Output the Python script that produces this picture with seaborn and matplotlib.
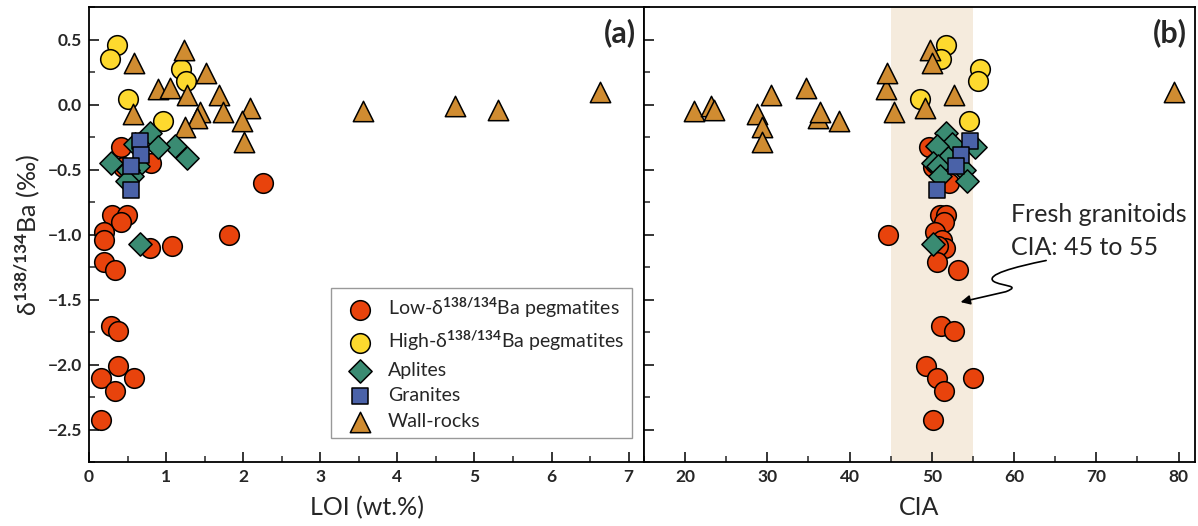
import numpy as np
import pandas as pd
import matplotlib
matplotlib.use("Agg")
import matplotlib.pyplot as plt
import seaborn as sns
from matplotlib.ticker import MultipleLocator
from matplotlib.path import Path
from matplotlib.patches import FancyArrowPatch

# ── Data ─────────────────────────────────────────────────────────────────────
# Low-δ pegmatites
low_d   = [-0.33, -0.48, -0.45, -0.60, -0.85, -0.85, -0.90, -0.98, -1.04, -1.00, -1.10,
           -1.09, -1.21, -1.27, -1.70, -1.74, -2.01, -2.10, -2.10, -2.20, -2.43]
low_loi = [0.42, 0.44, 0.81, 2.26, 0.30, 0.49, 0.41, 0.20, 0.20, 1.81, 0.79,
           1.08, 0.20, 0.34, 0.29, 0.37, 0.37, 0.16, 0.58, 0.34, 0.16]
low_cia = [49.6, 50.2, 50.4, 52.1, 51.0, 51.7, 51.5, 50.4, 51.2, 44.7, 51.6,
           50.8, 50.6, 53.2, 51.1, 52.7, 49.3, 50.6, 55.0, 51.5, 50.2]

# High-δ pegmatites
high_d   = [0.46, 0.35, 0.04, -0.13, 0.27, 0.18]
high_loi = [0.36, 0.27, 0.51, 0.96, 1.19, 1.26]
high_cia = [51.7, 51.1, 48.6, 54.5, 55.9, 55.6]

# Aplites
apl_d   = [-0.22, -0.30, -0.32, -0.33, -0.41, -0.45, -0.47, -0.50, -0.55, -0.59, -1.07]
apl_loi = [0.79, 0.60, 1.12, 0.90, 1.27, 0.29, 0.64, 0.50, 0.56, 0.49, 0.66]
apl_cia = [51.7, 52.5, 50.6, 55.3, 52.0, 50.2, 50.8, 53.9, 51.0, 54.3, 50.2]

# Granites
gra_d   = [-0.28, -0.39, -0.47, -0.66]
gra_loi = [0.66, 0.67, 0.54, 0.55]
gra_cia = [54.7, 53.5, 52.9, 50.6]

# Wall-rocks
wall_d   = [0.42, 0.32, 0.12, 0.13, 0.24, 0.07, 0.07, -0.07, -0.06, -0.10,
            -0.06, -0.03, -0.13, -0.17, -0.29, -0.05, -0.01, -0.04, 0.10]
wall_loi = [1.23, 0.59, 0.89, 1.05, 1.52, 1.27, 1.68, 0.57, 1.44, 1.40,
            1.74, 2.09, 1.99, 1.24, 2.01, 3.56, 4.75, 5.31, 6.63]
wall_cia = [49.8, 50.0, 44.4, 34.7, 44.5, 30.4, 52.7, 28.7, 45.4, 36.2,
            36.4, 49.2, 38.75, 29.4, 29.4, 21.05, 23.1, 23.5, 79.4]

fresh_cia = (45, 55)

# ── Style ────────────────────────────────────────────────────────────────────
sns.set_theme(style="ticks")
plt.rcParams["font.family"] = ["Lato", "DejaVu Sans"]
plt.rcParams["font.weight"] = "bold"          # tick labels bold, other texts set back to normal
plt.rcParams["mathtext.fontset"] = "custom"
plt.rcParams["mathtext.rm"] = "Lato"
plt.rcParams["mathtext.it"] = "Lato:italic"
plt.rcParams["mathtext.bf"] = "Lato:bold"

groups = [
    # label, delta, loi, cia, marker, size, colour, zorder
    ("Low-δ$^{138/134}$Ba pegmatites",  low_d,  low_loi,  low_cia,  "o", 200, "#E8430C", 3),
    ("High-δ$^{138/134}$Ba pegmatites", high_d, high_loi, high_cia, "o", 200, "#FDD92E", 3),
    ("Wall-rocks",                      wall_d, wall_loi, wall_cia, "^", 215, "#D08C31", 4),
    ("Aplites",                         apl_d,  apl_loi,  apl_cia,  "D", 140, "#3A8B72", 5),
    ("Granites",                        gra_d,  gra_loi,  gra_cia,  "s", 140, "#4A62A8", 6),
]
legend_order = [0, 1, 3, 4, 2]

fig = plt.figure(figsize=(11.98, 5.26), dpi=100)
ax_a = fig.add_axes([89 / 1198, 64 / 526, 555 / 1198, 455 / 526])
ax_b = fig.add_axes([644 / 1198, 64 / 526, 551 / 1198, 455 / 526])

ax_b.axvspan(*fresh_cia, color="#F5EBDD", zorder=0, lw=0)

handles = []
for label, d, loi, cia, mk, s, col, z in groups:
    sns.scatterplot(x=loi, y=d, ax=ax_a, marker=mk, s=s, color=col,
                    edgecolor="black", linewidth=1.1, zorder=z, label=label, legend=False)
    handles.append(ax_a.collections[-1])
    sns.scatterplot(x=cia, y=d, ax=ax_b, marker=mk, s=s, color=col,
                    edgecolor="black", linewidth=1.1, zorder=z, legend=False)

# ── Axes ─────────────────────────────────────────────────────────────────────
for ax in (ax_a, ax_b):
    ax.set_ylim(-2.75, 0.75)
    ax.yaxis.set_major_locator(MultipleLocator(0.5))
    ax.yaxis.set_minor_locator(MultipleLocator(0.25))
    ax.tick_params(which="both", direction="in", top=False, right=False)
    ax.tick_params(which="major", length=7, width=1.3)
    ax.tick_params(which="minor", length=4, width=1.1)
    ax.tick_params(labelsize=12.5, pad=5)
    for sp in ax.spines.values():
        sp.set_color("black")
        sp.set_linewidth(1.3)

ax_a.set_xlim(0, 7.2)
ax_a.xaxis.set_major_locator(MultipleLocator(1))
ax_a.xaxis.set_minor_locator(MultipleLocator(0.5))
ax_a.set_xlabel("LOI (wt.%)", fontsize=18, fontweight="normal", labelpad=8)
ax_a.set_ylabel("δ$^{138/134}$Ba (‰)", fontsize=18, fontweight="normal", labelpad=4)

ax_b.set_xlim(15, 82)
ax_b.xaxis.set_major_locator(MultipleLocator(10))
ax_b.xaxis.set_minor_locator(MultipleLocator(5))
ax_b.set_xlabel("CIA", fontsize=18, fontweight="normal", labelpad=8)
ax_b.set_ylabel("")
ax_b.tick_params(labelleft=False)

ax_a.text(0.985, 0.975, "(a)", transform=ax_a.transAxes, ha="right", va="top",
          fontsize=22, fontweight="bold")
ax_b.text(0.985, 0.975, "(b)", transform=ax_b.transAxes, ha="right", va="top",
          fontsize=22, fontweight="bold")

# ── Legend ───────────────────────────────────────────────────────────────────
leg = ax_a.legend([handles[i] for i in legend_order], [groups[i][0] for i in legend_order],
                  loc="lower right", bbox_to_anchor=(0.978, 0.053), borderaxespad=0,
                  prop={"size": 14, "weight": "normal"}, frameon=True, fancybox=False,
                  framealpha=1, edgecolor="#999999", labelspacing=0.45,
                  handletextpad=0.35, borderpad=0.4, handlelength=2.2)
leg.get_frame().set_linewidth(1.0)

# ── Annotation (b) ───────────────────────────────────────────────────────────
ax_b.text(59.6, -0.845, "Fresh granitoids", fontsize=18, fontweight="normal",
          ha="left", va="center")
ax_b.text(59.6, -1.10, "CIA: 45 to 55", fontsize=18, fontweight="normal",
          ha="left", va="center")
squiggle = Path(
    [(63.9, -1.20), (60.0, -1.25), (56.5, -1.31), (57.5, -1.36),
     (58.5, -1.40), (61.0, -1.39), (59.0, -1.44), (53.5, -1.52)],
    [Path.MOVETO, Path.CURVE4, Path.CURVE4, Path.CURVE4,
     Path.CURVE4, Path.CURVE4, Path.CURVE4, Path.LINETO])
arrow = FancyArrowPatch(path=squiggle, arrowstyle="-|>", mutation_scale=14,
                        color="black", lw=1.2, zorder=7)
ax_b.add_patch(arrow)

fig.savefig("out.png", dpi=100)
